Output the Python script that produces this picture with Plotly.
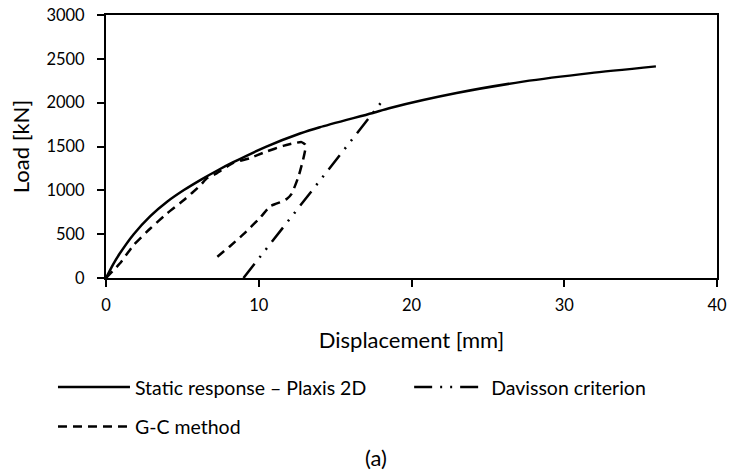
import plotly.graph_objects as go

# ---- data ----
static_x = [0, 0.45, 0.9, 1.8, 2.9, 4.0, 5.1, 6.2, 7.35, 8.3, 10.5, 12.7, 14.0, 17.4, 18.6, 22.95, 27.3, 31.7, 36.0]
static_y = [0, 150, 279, 497, 706, 870, 1003, 1120, 1232, 1318, 1499, 1648, 1720, 1880, 1940, 2110, 2240, 2337, 2414]

davisson_x = [9.0, 18.0]
davisson_y = [0, 2000]

gc_x = [0, 0.9, 1.8, 2.9, 4.0, 5.1, 6.2, 6.6, 7.24, 8.3, 9.4, 10.5, 11.6, 12.3, 12.8, 13.05, 13.05, 12.9, 12.6, 12.15, 11.85, 11.5, 11.1, 10.75, 10.1, 9.0, 8.1, 7.1]
gc_y = [0, 165, 374, 565, 737, 889, 1061, 1137, 1194, 1310, 1366, 1442, 1507, 1537, 1550, 1520, 1470, 1347, 1156, 960, 905, 870, 845, 820, 690, 500, 360, 215]

x_ticks = [0, 10, 20, 30, 40]
y_ticks = [0, 500, 1000, 1500, 2000, 2500, 3000]

names = ["Static response \u2013 Plaxis 2D", "Davisson criterion", "G-C method"]

FONT = "Lato"
TICK_FS = 16.5
TITLE_FS = 22
LEG_FS = 19.5

fig = go.Figure()
fig.add_trace(go.Scatter(x=static_x, y=static_y, mode="lines", name=names[0], showlegend=True,
                         line=dict(color="black", width=2.5, shape="spline", smoothing=0.6),
                         legend="legend"))
fig.add_trace(go.Scatter(x=davisson_x, y=davisson_y, mode="lines", name=names[1], showlegend=True,
                         line=dict(color="black", width=2.5, dash="18px,8px,2px,8px,2px,8px"),
                         legend="legend2"))
fig.add_trace(go.Scatter(x=gc_x, y=gc_y, mode="lines", name=names[2], showlegend=True,
                         line=dict(color="black", width=2.5, dash="9px,6px", shape="spline", smoothing=0.5),
                         legend="legend3"))

axis_common = dict(showline=True, linecolor="black", linewidth=2, mirror=True,
                   ticks="outside", ticklen=7, tickwidth=2, tickcolor="black",
                   showgrid=False, zeroline=False, automargin=False,
                   tickfont=dict(family=FONT, size=TICK_FS, color="black"))

fig.update_xaxes(range=[0, 40], tickvals=x_ticks, ticklabelstandoff=4,
                 title=dict(text="Displacement [mm]", font=dict(family=FONT, size=TITLE_FS, color="black"), standoff=19),
                 **axis_common)
fig.update_yaxes(range=[0, 3000], tickvals=y_ticks, ticklabelstandoff=9,
                 title=dict(text="Load [kN]", font=dict(family=FONT, size=TITLE_FS, color="black"), standoff=11),
                 **axis_common)

leg_common = dict(font=dict(family=FONT, size=LEG_FS, color="black"), itemwidth=72,
                  bgcolor="rgba(0,0,0,0)", borderwidth=0, yanchor="middle", xanchor="left")

fig.update_layout(
    width=733, height=475, autosize=False,
    margin=dict(l=106, r=16, t=15, b=197),
    plot_bgcolor="white", paper_bgcolor="white",
    showlegend=True,
    font=dict(family=FONT, size=LEG_FS, color="black"),
    legend=dict(x=(53 - 106) / 610.7, y=-0.416, **leg_common),
    legend2=dict(x=(409 - 106) / 610.7, y=-0.416, **leg_common),
    legend3=dict(x=(53 - 106) / 610.7, y=-0.566, **leg_common),
    annotations=[dict(text="(a)", x=(376 - 106) / 610.7, y=(277.7 - 457) / 262.7,
                      xref="paper", yref="paper", showarrow=False,
                      xanchor="center", yanchor="middle",
                      font=dict(family=FONT, size=22, color="black"))],
)

fig.write_html("out.html", config={"displayModeBar": False},
               post_script="document.body.style.margin='0px';")
